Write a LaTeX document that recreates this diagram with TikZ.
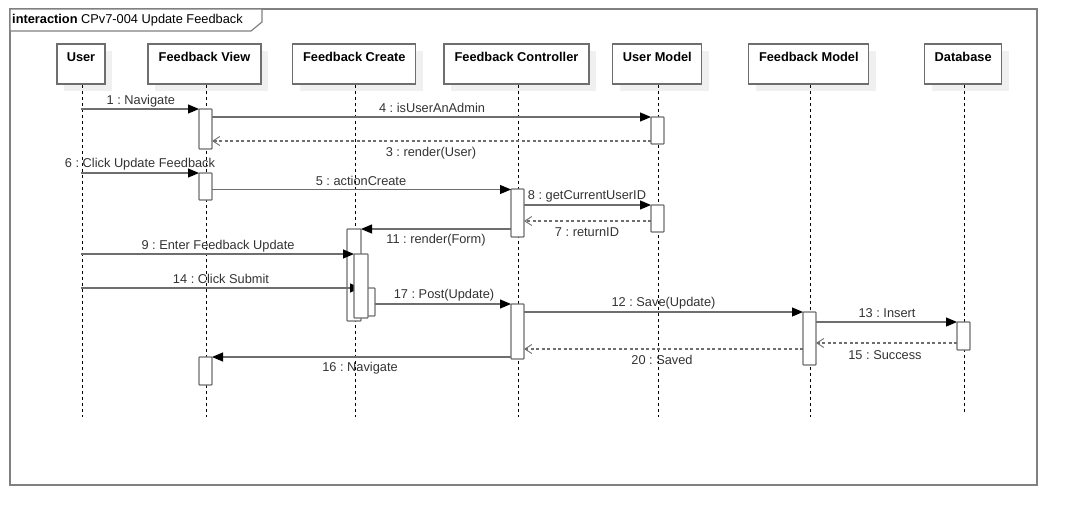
\documentclass[tikz,border=0pt]{standalone}
\usepackage{fontspec}
\setmainfont{Liberation Sans}
\usetikzlibrary{arrows.meta,shadows}
\definecolor{lnc}{HTML}{6E6E6E}
\definecolor{frc}{HTML}{808080}
\definecolor{txt}{HTML}{333333}
\frenchspacing
\begin{document}
\begin{tikzpicture}[x=1pt,y=-1pt,
  font=\fontsize{12.8}{15}\selectfont,
  head/.style={draw=lnc, line width=1.2pt, fill=white, inner sep=0pt, minimum height=40pt,
    drop shadow={opacity=1,fill=black!6,shadow xshift=7pt,shadow yshift=-7pt},
    label={[anchor=north, inner sep=0pt, label distance=-9pt, font=\fontsize{12.8}{15}\selectfont\bfseries]north:#1}},
  act/.style={draw=lnc, line width=1.2pt, fill=white, inner sep=0pt, outer sep=0pt, anchor=north west, minimum width=13pt, rounded corners=0.8pt},
  life/.style={black, line width=0.8pt, dash pattern=on 3pt off 3pt},
  msg/.style={lnc, line width=1.2pt, -{Triangle[length=11pt,width=9pt,black]}},
  ret/.style={lnc, line width=1.1pt, dash pattern=on 3pt off 2.5pt, -{Straight Barb[length=7pt,width=9pt,line width=0.9pt]}},
  lbl/.style={text=txt, inner sep=0pt},
]
\useasboundingbox (0,0) rectangle (1077,525);
% frame
\draw[frc, line width=1.5pt] (10,9) rectangle (1037,485);
\draw[frc, line width=1.2pt, fill=white] (10,9) -- (262,9) -- (262,22) -- (251,31) -- (10,31) -- cycle;
\node[anchor=west, inner sep=0pt] (title) at (12,20) {\textbf{interaction} CPv7-004 Update Feedback};
% heads
\node[head=User, minimum width=48pt] (user) at (81,64) {};
\node[head=Feedback View, minimum width=113pt] (fv) at (204.5,64) {};
\node[head=Feedback Create, minimum width=123pt] (cr) at (354.3,64) {};
\node[head=Feedback Controller, minimum width=145pt] (fc) at (516.5,64) {};
\node[head=User Model, minimum width=89pt] (um) at (657.3,64) {};
\node[head=Feedback Model, minimum width=120pt] (fm) at (808.8,64) {};
\node[head=Database, minimum width=77pt] (db) at (963.2,64) {};
% lifeline ends
\coordinate (userE) at (82,417);
\coordinate (fvE) at (206,417);
\coordinate (crE) at (355,417);
\coordinate (fcE) at (518,417);
\coordinate (umE) at (658.7,417);
\coordinate (fmE) at (810,417);
\coordinate (dbE) at (964.3,412);
\draw[life] ([xshift=1pt]user.south) -- (userE);
\draw[life] (fv.south -| fvE) -- (fvE);
\draw[life] (cr.south -| crE) -- (crE);
\draw[life] (fc.south -| fcE) -- (fcE);
\draw[life] (um.south -| umE) -- (umE);
\draw[life] (fm.south -| fmE) -- (fmE);
\draw[life] (db.south -| dbE) -- (dbE);
% message rows
\coordinate (m1) at (0,109);
\coordinate (m4) at (0,117);
\coordinate (m3) at (0,141);
\coordinate (m6) at (0,173);
\coordinate (m5) at (0,189.5);
\coordinate (m8) at (0,205);
\coordinate (m7) at (0,221);
\coordinate (m11) at (0,229);
\coordinate (m9) at (0,254);
\coordinate (m14) at (0,288);
\coordinate (m17) at (0,304);
\coordinate (m12) at (0,312);
\coordinate (m13) at (0,322);
\coordinate (m15) at (0,343);
\coordinate (m20) at (0,349);
\coordinate (m16) at (0,357);
\coordinate (cr2top) at (354,254);
% activations
\node[act, minimum height=40pt] (fv1) at (199,109) {};
\node[act, minimum height=27pt] (um1) at (651,117) {};
\node[act, minimum height=27pt] (fv2) at (199,173) {};
\node[act, minimum height=48pt] (fc1) at (511,189) {};
\node[act, minimum height=27pt] (um2) at (651,205) {};
\node[act, minimum height=92pt, minimum width=14pt] (cr1) at (347,229) {};
\node[act, minimum height=55pt] (fc2) at (511,304) {};
\node[act, minimum height=53pt] (fm1) at (803,312) {};
\node[act, minimum height=28pt] (db1) at (957,322) {};
\node[act, minimum height=28pt] (fv3) at (199,357) {};
% messages
\draw[msg] (user |- m1) -- (fv1.west |- m1);
\draw[msg] (fv1.east |- m4) -- (um1.west |- m4);
\draw[ret] (um1.west |- m3) -- (fv1.east |- m3);
\draw[msg] (user |- m6) -- (fv2.west |- m6);
\draw[msg] (fv2.east |- m5) -- (fc1.west |- m5);
\draw[msg] (fc1.east |- m8) -- (um2.west |- m8);
\draw[ret] (um2.west |- m7) -- (fc1.east |- m7);
\draw[msg] (fc1.west |- m11) -- (cr1.east |- m11);
\node[act, minimum height=28pt, minimum width=14pt] (cr3) at (361,288) {};
\draw[msg] (user |- m14) -- (cr3.west |- m14);
\node[act, minimum height=64pt, minimum width=14pt] (cr2) at (cr2top) {};
\draw[msg] (user |- m9) -- (cr2.west |- m9);
\draw[msg] (cr3.east |- m17) -- (fc2.west |- m17);
\draw[msg] (fc2.east |- m12) -- (fm1.west |- m12);
\draw[msg] (fm1.east |- m13) -- (db1.west |- m13);
\draw[ret] (db1.west |- m15) -- (fm1.east |- m15);
\draw[ret] (fm1.west |- m20) -- (fc2.east |- m20);
\draw[msg] (fc2.west |- m16) -- (fv3.east |- m16);
% labels
\node[lbl] (l1) at (140.8,100.7) {1 : Navigate};
\node[lbl] (l4) at (432,108) {4 : isUserAnAdmin};
\node[lbl] (l3) at (431,153) {3 : render(User)};
\node[lbl] (l6) at (140,164) {6 : Click Update Feedback};
\node[lbl] (l5) at (361,181) {5 : actionCreate};
\node[lbl] (l8) at (587,196) {8 : getCurrentUserID};
\node[lbl] (l7) at (587,232) {7 : returnID};
\node[lbl] (l11) at (436,240.5) {11 : render(Form)};
\node[lbl] (l9) at (218,246) {9 : Enter Feedback Update};
\node[lbl] (l14) at (221,279) {14 : Click Submit};
\node[lbl] (l17) at (444,295.5) {17 : Post(Update)};
\node[lbl] (l12) at (663.5,303.3) {12 : Save(Update)};
\node[lbl] (l13) at (887,313.3) {13 : Insert};
\node[lbl] (l15) at (885,355.3) {15 : Success};
\node[lbl] (l20) at (662,360) {20 : Saved};
\node[lbl] (l16) at (360,368.3) {16 : Navigate};
\end{tikzpicture}
\end{document}
